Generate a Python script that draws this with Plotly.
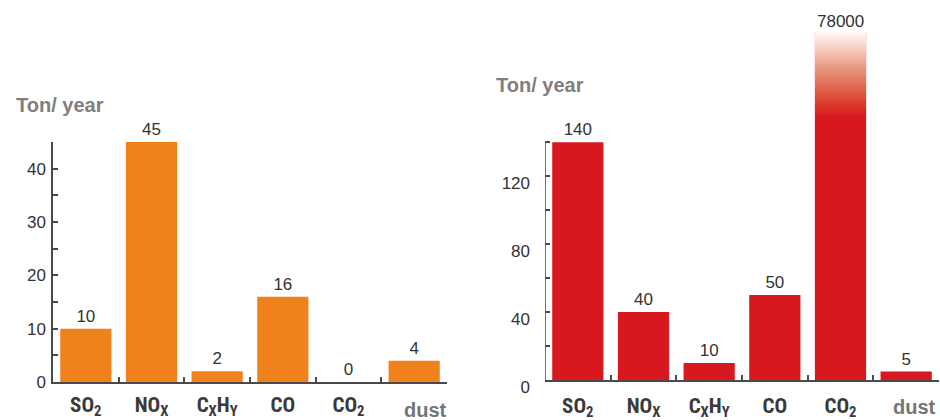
import base64
import plotly.graph_objects as go

# Emissions before and after, ton per year
categories = ["SO2", "NOx", "CxHy", "CO", "CO2", "dust"]
tick_text = ["SO<sub>2</sub>", "NO<sub>X</sub>", "C<sub>X</sub>H<sub>Y</sub>",
             "CO", "CO<sub>2</sub>", ""]
left_values = [10, 45, 2, 16, 0, 4]
right_values = [140, 40, 10, 50, 78000, 5]
unit_label = "Ton/ year"
left_yticks = [0, 10, 20, 30, 40]
left_yminor = [5, 15, 25, 35, 45]
right_yticks = [0, 40, 80, 120]
right_yminor = [20, 60, 100, 140]

ORANGE = "#F0821E"
RED = "#D7191F"
AXIS = "#4a4a4a"
TEXT = "#333333"
NARROW = "Liberation Sans Narrow, Arial Narrow, Roboto Condensed, Liberation Sans, sans-serif"
SANS = "Liberation Sans, Arial, sans-serif"

W, H = 940, 420
def px_x(p): return p / W
def px_y(p): return (H - p) / H

fig = go.Figure()

# left panel
fig.add_trace(go.Bar(
    x=categories, y=left_values, width=0.78, marker=dict(color=ORANGE, line=dict(width=0)),
    text=[str(v) for v in left_values], textposition="outside", cliponaxis=False,
    textfont=dict(family=SANS, size=17, color=TEXT), xaxis="x", yaxis="y",
    showlegend=False, hoverinfo="skip"))

# right panel: regular bars
idx_big = categories.index("CO2")
rx = [c for i, c in enumerate(categories) if i != idx_big]
ry = [v for i, v in enumerate(right_values) if i != idx_big]
fig.add_trace(go.Bar(
    x=rx, y=ry, width=0.78, marker=dict(color=RED, line=dict(width=0)),
    text=[str(v) for v in ry], textposition="outside", cliponaxis=False,
    textfont=dict(family=SANS, size=17, color=TEXT), xaxis="x2", yaxis="y2",
    showlegend=False, hoverinfo="skip"))
# right panel: the CO2 bar runs off the top of the axis
fig.add_trace(go.Bar(
    x=[categories[idx_big]], y=[right_values[idx_big]], width=0.78,
    marker=dict(color=RED, line=dict(width=0)), cliponaxis=True,
    xaxis="x2", yaxis="y2", showlegend=False, hoverinfo="skip"))

R_TOP = 205
FADE_START = 155

# vertical fade (red at the bottom to white at the top) laid over the clipped bar
svg = (
    '<svg xmlns="http://www.w3.org/2000/svg" width="10" height="100" '
    'viewBox="0 0 10 100" preserveAspectRatio="none">'
    '<defs><linearGradient id="g" x1="0" y1="0" x2="0" y2="1">'
    '<stop offset="0" stop-color="#FFF8F6"/>'
    '<stop offset="0.12" stop-color="#F9E0D6"/>'
    '<stop offset="0.45" stop-color="#E7927A"/>'
    '<stop offset="0.78" stop-color="#DC4A35"/>'
    '<stop offset="1" stop-color="' + RED + '"/>'
    '</linearGradient></defs>'
    '<rect x="0" y="0" width="10" height="100" fill="url(#g)"/></svg>'
)
fade_src = "data:image/svg+xml;base64," + base64.b64encode(svg.encode()).decode()

images = [dict(source=fade_src, xref="x2", yref="y2", x=idx_big - 0.39, y=R_TOP,
               sizex=0.78, sizey=R_TOP - FADE_START, sizing="stretch",
               xanchor="left", yanchor="top", layer="above")]

shapes = [
    # right y axis line stops at 140
    dict(type="line", xref="x2", yref="y2", x0=-0.5, x1=-0.5, y0=0, y1=140,
         line=dict(color=AXIS, width=1.5), layer="above"),
]

annotations = [
    dict(x=categories[idx_big], y=R_TOP, xref="x2", yref="y2", text=str(right_values[idx_big]),
         showarrow=False, yanchor="bottom", yshift=-1, font=dict(family=SANS, size=17, color=TEXT)),
    dict(x=px_x(60), y=px_y(105), xref="paper", yref="paper", text="<b>" + unit_label + "</b>",
         showarrow=False, xanchor="center", yanchor="middle",
         font=dict(family=SANS, size=20, color="#7f7f7f")),
    dict(x=px_x(540), y=px_y(85), xref="paper", yref="paper", text="<b>" + unit_label + "</b>",
         showarrow=False, xanchor="center", yanchor="middle",
         font=dict(family=SANS, size=20, color="#7f7f7f")),
    dict(x=px_x(425), y=px_y(410), xref="paper", yref="paper", text="<b>dust</b>",
         showarrow=False, xanchor="center", yanchor="middle",
         font=dict(family=SANS, size=20, color="#757575")),
    dict(x=px_x(914), y=px_y(407), xref="paper", yref="paper", text="<b>dust</b>",
         showarrow=False, xanchor="center", yanchor="middle",
         font=dict(family=SANS, size=20, color="#757575")),
]

def x_axis(domain, anchor, standoff):
    return dict(
        domain=domain, anchor=anchor, automargin=False,
        type="category", categoryorder="array", categoryarray=categories,
        tickvals=categories, ticktext=tick_text, range=[-0.5, 5.5],
        showline=True, linecolor=AXIS, linewidth=1.5, ticks="inside", ticklen=5,
        tickcolor=AXIS, tickwidth=1.5, tickson="boundaries", showgrid=False, zeroline=False,
        tickfont=dict(family=NARROW, size=21, color="#3a3a3a", weight="bold"),
        ticklabelstandoff=standoff, fixedrange=True)

fig.update_layout(
    width=W, height=H, margin=dict(l=0, r=0, t=0, b=0, autoexpand=False),
    paper_bgcolor="white", plot_bgcolor="white", barmode="overlay",
    xaxis=x_axis([px_x(53), px_x(447)], "y", 3),
    xaxis2=x_axis([px_x(545), px_x(939)], "y2", 6),
    yaxis=dict(domain=[px_y(382), px_y(142)], anchor="x", range=[0, 45.01], automargin=False,
               tickvals=left_yticks, ticks="inside", ticklen=5, tickcolor=AXIS, tickwidth=1.5,
               minor=dict(tickvals=left_yminor, ticks="inside", ticklen=5, tickcolor=AXIS, tickwidth=1.5),
               showline=True, linecolor=AXIS, linewidth=1.5, showgrid=False, zeroline=False,
               tickfont=dict(family=SANS, size=17, color=TEXT), ticklabelstandoff=2, fixedrange=True),
    yaxis2=dict(domain=[px_y(380), px_y(32)], anchor="x2", range=[0, R_TOP], automargin=False,
                tickvals=right_yticks, ticks="inside", ticklen=5, tickcolor=AXIS, tickwidth=1.5,
                minor=dict(tickvals=right_yminor, ticks="inside", ticklen=5, tickcolor=AXIS, tickwidth=1.5),
                showline=False, showgrid=False, zeroline=False,
                tickfont=dict(family=SANS, size=17, color=TEXT), ticklabelstandoff=14,
                ticklabelshift=7, fixedrange=True),
    shapes=shapes, annotations=annotations, images=images,
)

fig.write_html("out.html")
